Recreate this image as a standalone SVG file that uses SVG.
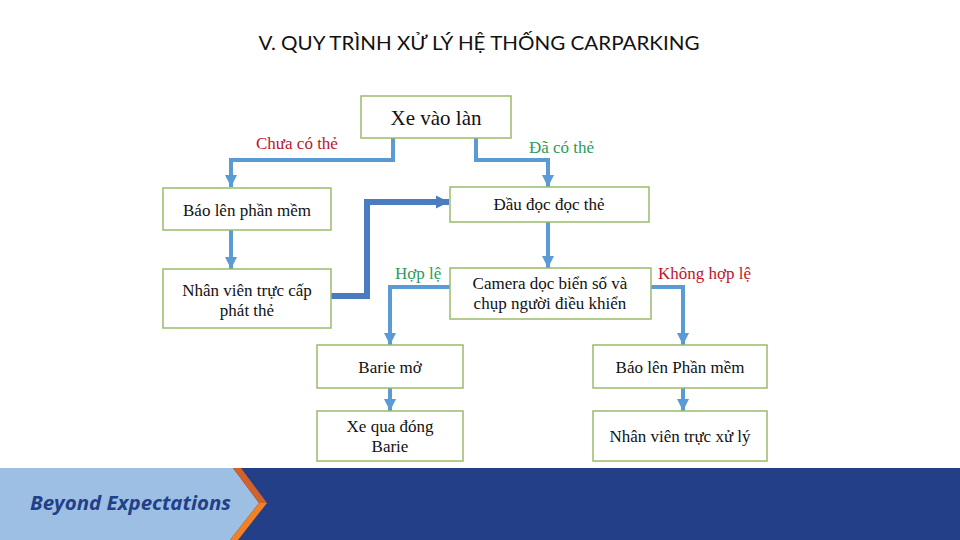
<svg xmlns="http://www.w3.org/2000/svg" width="960" height="540" viewBox="0 0 960 540">
<style>
.box{fill:#fff;stroke:#9BBB6B;stroke-width:1.5}
.t{font-family:"Liberation Serif","Times New Roman",serif;font-size:17px;fill:#111;text-anchor:middle}
.c{fill:none;stroke:#5B9BD5;stroke-width:4}
.ct{fill:none;stroke:#4A7CBF;stroke-width:6}
.red{font-family:"Liberation Serif",serif;font-size:17px;fill:#C0142C}
.grn{font-family:"Liberation Serif",serif;font-size:17px;fill:#2E9B5A}
</style>
<defs>
<marker id="a" viewBox="0 0 10 10" refX="10" refY="5" markerWidth="3" markerHeight="3.2" orient="auto" markerUnits="strokeWidth"><path d="M0,0L10,5L0,10z" fill="#5B9BD5"/></marker>
<marker id="b" viewBox="0 0 10 10" refX="10" refY="5" markerWidth="2.2" markerHeight="2.3" orient="auto" markerUnits="strokeWidth"><path d="M0,0L10,5L0,10z" fill="#4A7CBF"/></marker>
</defs>
<rect width="960" height="540" fill="#fff"/>
<text x="479" y="50" font-family="Lato,Open Sans,sans-serif" font-size="20" fill="#111" text-anchor="middle" textLength="441" lengthAdjust="spacingAndGlyphs">V. QUY TRÌNH XỬ LÝ HỆ THỐNG CARPARKING</text>
<g id="connectors">
<path class="c" d="M393,138V160H231V187" marker-end="url(#a)"/>
<path class="c" d="M476,138V160H548V187" marker-end="url(#a)"/>
<path class="c" d="M548,222V268" marker-end="url(#a)"/>
<path class="c" d="M231,230V269" marker-end="url(#a)"/>
<path class="ct" d="M331,296H367V202H449" marker-end="url(#b)"/>
<path class="c" d="M450,287H390V345" marker-end="url(#a)"/>
<path class="c" d="M651,287H683V345" marker-end="url(#a)"/>
<path class="c" d="M390,388V411" marker-end="url(#a)"/>
<path class="c" d="M683,388V411" marker-end="url(#a)"/>
<text class="red" x="256" y="149">Chưa có thẻ</text>
<text class="grn" x="529" y="153">Đã có thẻ</text>
<text class="grn" x="395" y="279">Hợp lệ</text>
<text class="red" x="658" y="279">Không hợp lệ</text>
</g>
<g id="n1"><rect class="box" x="361" y="96" width="150" height="42"/><text class="t" x="436" y="125" style="font-size:21px">Xe vào làn</text></g>
<g id="n2"><rect class="box" x="163" y="188" width="168" height="42"/><text class="t" x="247" y="216">Báo lên phần mềm</text></g>
<g id="n3"><rect class="box" x="450" y="187" width="199" height="35"/><text class="t" x="549" y="210">Đầu đọc đọc thẻ</text></g>
<g id="n4"><rect class="box" x="163" y="269" width="168" height="59"/><text class="t" x="247" y="296">Nhân viên trực cấp</text><text class="t" x="247" y="316">phát thẻ</text></g>
<g id="n5"><rect class="box" x="450" y="268" width="201" height="51"/><text class="t" x="550" y="289">Camera dọc biển số và</text><text class="t" x="550" y="309">chụp người điều khiển</text></g>
<g id="n6"><rect class="box" x="317" y="345" width="146" height="43"/><text class="t" x="390" y="373">Barie mở</text></g>
<g id="n7"><rect class="box" x="317" y="411" width="146" height="50"/><text class="t" x="390" y="432">Xe qua đóng</text><text class="t" x="390" y="452">Barie</text></g>
<g id="n8"><rect class="box" x="593" y="345" width="174" height="43"/><text class="t" x="680" y="373">Báo lên Phần mềm</text></g>
<g id="n9"><rect class="box" x="593" y="411" width="174" height="50"/><text class="t" x="680" y="442">Nhân viên trực xử lý</text></g>
<g id="footer">
<rect x="0" y="468" width="960" height="72" fill="#223F88"/>
<polygon points="0,468 233,468 259,503 230,540 0,540" fill="#9DBFE3"/>
<polygon points="233,468 241,468 267,503 259,503" fill="#D2622A"/>
<polygon points="259,503 267,503 238,540 230,540" fill="#F28124"/>
<text x="30" y="510" font-family="Open Sans,Noto Sans,sans-serif" font-size="20" font-weight="bold" font-style="italic" fill="#223F88" textLength="201" lengthAdjust="spacingAndGlyphs">Beyond Expectations</text>
</g>
</svg>
